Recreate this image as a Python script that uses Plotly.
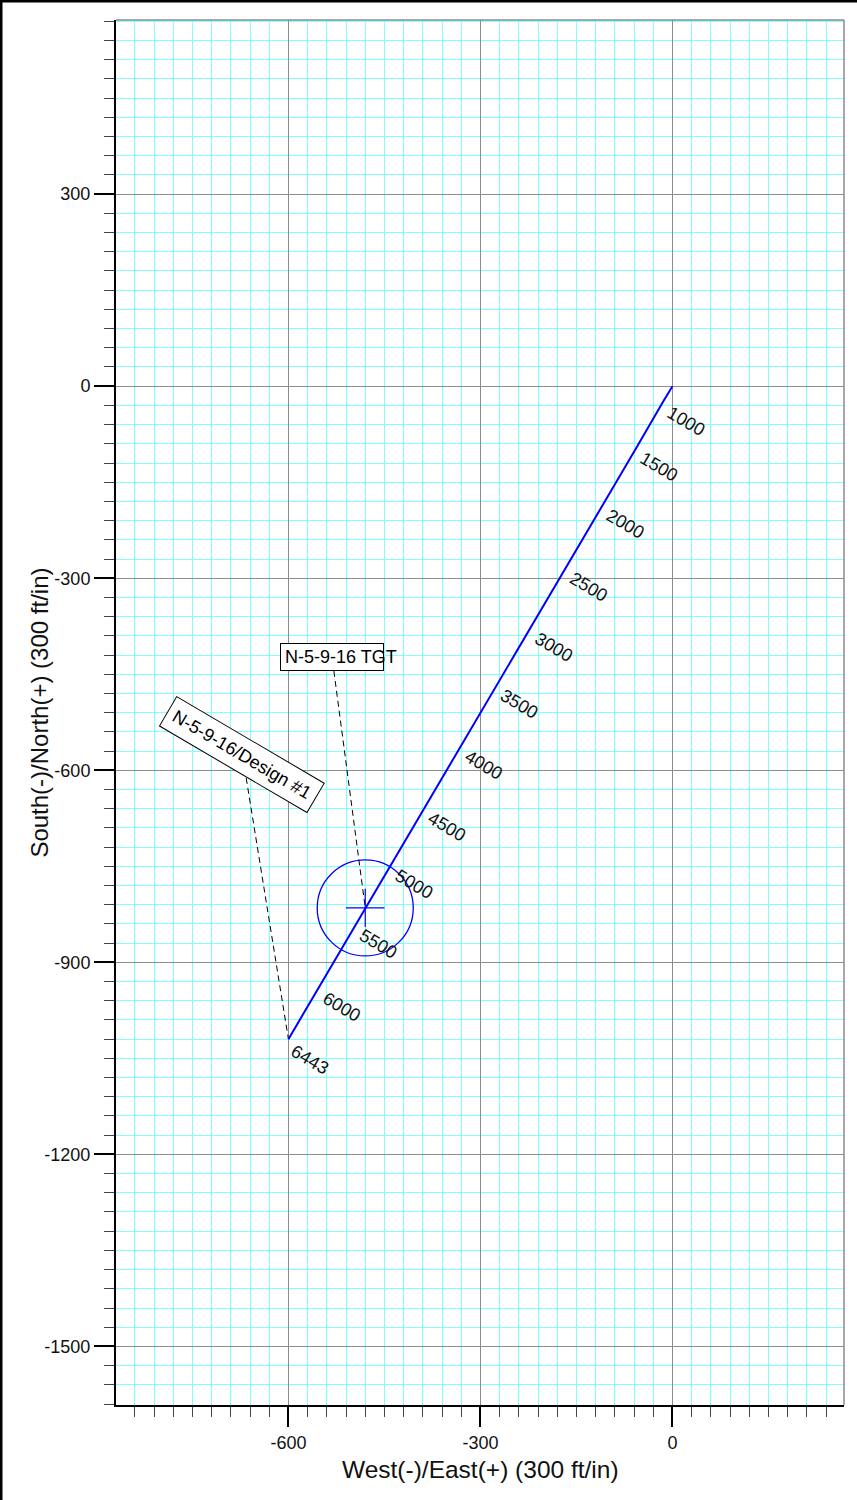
import plotly.graph_objects as go

# ---------------- data ----------------
md_labels = ["1000", "1500", "2000", "2500", "3000", "3500", "4000",
             "4500", "5000", "5500", "6000", "6443"]
md_east = [-14, -55, -108, -165, -220, -274, -329, -386, -439, -494, -551, -600]
md_north = [-23, -94, -184, -281, -375, -465, -559, -656, -746, -840, -937, -1020]

path_east = [0] + md_east
path_north = [0] + md_north

target_name = "N-5-9-16 TGT"
target_east = -480
target_north = -815
target_radius = 75
target_cross = 30
target_label_pos = [-532, -423]
target_leader_east = [-529, -480]
target_leader_north = [-445, -815]

plan_name = "N-5-9-16/Design #1"
plan_label_pos = [-673, -575]
plan_leader_east = [-666, -600]
plan_leader_north = [-612, -1020]

x_ticks = [-600, -300, 0]
y_ticks = [300, 0, -300, -600, -900, -1200, -1500]
x_title = "West(-)/East(+) (300 ft/in)"
y_title = "South(-)/North(+) (300 ft/in)"

# ---------------- figure ----------------
FONT = "Liberation Sans, Arial, Helvetica, sans-serif"
BLUE = "#0000ff"

fig = go.Figure()

fig.add_trace(go.Scatter(x=plan_leader_east, y=plan_leader_north, mode="lines",
                         line=dict(color="black", width=1, dash="6px,4px"),
                         hoverinfo="skip", showlegend=False))
fig.add_trace(go.Scatter(x=target_leader_east, y=target_leader_north, mode="lines",
                         line=dict(color="black", width=1, dash="6px,4px"),
                         hoverinfo="skip", showlegend=False))
fig.add_trace(go.Scatter(x=path_east, y=path_north, mode="lines",
                         line=dict(color=BLUE, width=2),
                         hoverinfo="skip", showlegend=False))
# target crosshair
fig.add_trace(go.Scatter(x=[target_east - target_cross, target_east + target_cross],
                         y=[target_north, target_north], mode="lines",
                         line=dict(color=BLUE, width=1.2), hoverinfo="skip", showlegend=False))
fig.add_trace(go.Scatter(x=[target_east, target_east],
                         y=[target_north - target_cross, target_north + target_cross], mode="lines",
                         line=dict(color=BLUE, width=1.2), hoverinfo="skip", showlegend=False))

fig.add_shape(type="circle", xref="x", yref="y",
              x0=target_east - target_radius, x1=target_east + target_radius,
              y0=target_north - target_radius, y1=target_north + target_radius,
              line=dict(color=BLUE, width=1.3), layer="above")

# MD labels
for lab, ex, ny in zip(md_labels, md_east, md_north):
    fig.add_annotation(x=ex, y=ny, xref="x", yref="y", text=lab, showarrow=False,
                       textangle=30.5, xanchor="left", yanchor="top",
                       xshift=-3, yshift=1,
                       font=dict(family=FONT, size=18, color="#111111"))

# callout boxes
# target: box drawn separately so the text may run past its right edge
fig.add_annotation(x=target_label_pos[0], y=target_label_pos[1], xref="x", yref="y",
                   text=" ", showarrow=False, xanchor="center", yanchor="middle",
                   width=98, height=22, borderpad=2, bgcolor="white",
                   bordercolor="black", borderwidth=1,
                   font=dict(family=FONT, size=18, color="black"))
fig.add_annotation(x=target_label_pos[0], y=target_label_pos[1], xref="x", yref="y",
                   text=target_name, showarrow=False, xanchor="left", yanchor="middle",
                   xshift=-48, yshift=0, borderpad=0,
                   font=dict(family=FONT, size=18, color="black"))
fig.add_annotation(x=plan_label_pos[0], y=plan_label_pos[1], xref="x", yref="y",
                   text=plan_name, showarrow=False, xanchor="center", yanchor="middle",
                   textangle=30.4, width=166, height=29, borderpad=2, bgcolor="white",
                   bordercolor="black", borderwidth=1,
                   font=dict(family=FONT, size=18, color="black"))

# axis titles
fig.add_annotation(x=0.5, y=-0.0469, xref="paper", yref="paper", text=x_title,
                   showarrow=False, xanchor="center", yanchor="middle",
                   xshift=480 - (116 + 364), font=dict(family=FONT, size=24.5, color="#111111"))
fig.add_annotation(x=-0.1056, y=0.5, xref="paper", yref="paper", text=y_title,
                   showarrow=False, xanchor="center", yanchor="middle", textangle=-90,
                   yshift=0, font=dict(family=FONT, size=24, color="#111111"))

# plot border (top / right, gray)
fig.add_shape(type="line", xref="paper", yref="paper", x0=0, x1=1, y0=1, y1=1,
              line=dict(color="#8a8a8a", width=1.5), layer="above")
fig.add_shape(type="line", xref="paper", yref="paper", x0=1, x1=1, y0=0, y1=1,
              line=dict(color="#8a8a8a", width=1.5), layer="above")
# page frame (top / left, black)
fig.add_shape(type="line", xref="paper", yref="paper", x0=-116 / 728, x1=(857 - 116) / 728,
              y0=1 + 20 / 1385, y1=1 + 20 / 1385, line=dict(color="black", width=5), layer="above")
fig.add_shape(type="line", xref="paper", yref="paper", x0=-116 / 728, x1=-116 / 728,
              y0=-95 / 1385, y1=1 + 20 / 1385, line=dict(color="black", width=5), layer="above")

axis_common = dict(
    showgrid=True, gridcolor="#8c8c8c", gridwidth=1,
    zeroline=False, showline=True, linecolor="black", linewidth=2,
    ticks="outside", ticklen=20, tickwidth=2, tickcolor="black",
    tickfont=dict(family=FONT, size=18, color="#111111"),
    minor=dict(dtick=30, showgrid=True, gridcolor="#80ffff", gridwidth=1.3,
               ticks="outside", ticklen=10, tickwidth=1.4, tickcolor="#444444"),
    fixedrange=True,
)

fig.update_xaxes(range=[-869.4, 268], tickmode="array", tickvals=x_ticks,
                 ticktext=[str(v) for v in x_ticks], **axis_common)
fig.update_yaxes(range=[-1591.5, 572], tickmode="array", tickvals=y_ticks,
                 ticktext=[str(v) for v in y_ticks], **axis_common)

fig.update_layout(
    width=857, height=1500,
    margin=dict(l=116, r=13, t=20, b=95, pad=0),
    paper_bgcolor="white", plot_bgcolor="white",
    showlegend=False,
    font=dict(family=FONT, color="black"),
)

fig.write_html("out.html", config={"displayModeBar": False},
               post_script="document.body.style.margin='0';document.body.style.overflow='hidden';")
